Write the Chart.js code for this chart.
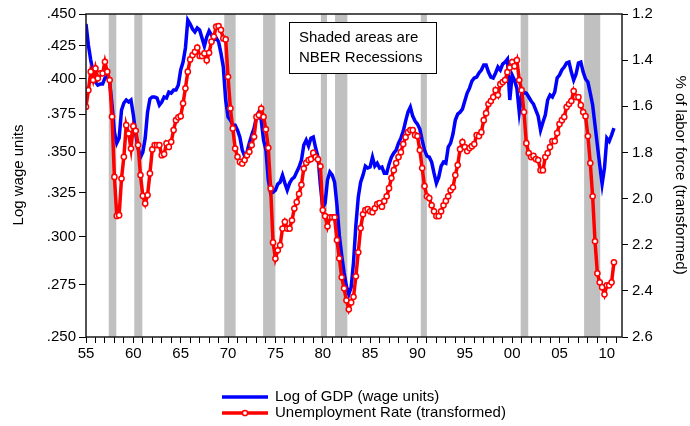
<!DOCTYPE html>
<html>
<head>
<meta charset="utf-8">
<script src="https://cdn.jsdelivr.net/npm/chart.js@4.4.1/dist/chart.umd.min.js"></script>
<style>
  body { margin: 0; background: #fff; }
  canvas { display: block; }
</style>
</head>
<body>
<canvas id="graphic" width="690" height="426"></canvas>
<script>
// ==========================================================================
// DATA (quarterly, 1955Q1 - 2010Q4)
// ==========================================================================
const firstYear = 1955;

// Log of GDP (wage units), left axis
const gdpLog = [
  .4419, .4253, .4138, .4049, .3976, .3954, .3961, .3961,
  .4005, .4020, .3976, .3813, .3630, .3558, .3590, .3778,
  .3827, .3848, .3834, .3848, .3744, .3617, .3526, .3468,
  .3500, .3590, .3764, .3855, .3869, .3869, .3862, .3813,
  .3834, .3869, .3862, .3904, .3897, .3918, .3918, .3954,
  .4064, .4123, .4230, .4451, .4419, .4379, .4355, .4387,
  .4371, .4308, .4245, .4316, .4363, .4331, .4292, .4308,
  .4277, .4191, .4086, .3848, .3730, .3710, .3676, .3676,
  .3643, .3597, .3513, .3475, .3500, .3558, .3610, .3656,
  .3730, .3764, .3710, .3577, .3513, .3326, .3248, .3254,
  .3266, .3302, .3314, .3356, .3308, .3266, .3308, .3332,
  .3344, .3375, .3406, .3449, .3545, .3577, .3539, .3590,
  .3597, .3526, .3468, .3296, .3161, .3190, .3326, .3375,
  .3356, .3314, .3178, .3009, .2901, .2813, .2742, .2702,
  .2737, .2865, .3064, .3224, .3314, .3356, .3412, .3400,
  .3406, .3468, .3412, .3430, .3400, .3406, .3368, .3368,
  .3424, .3468, .3494, .3513, .3558, .3590, .3636, .3703,
  .3764, .3799, .3737, .3703, .3683, .3650, .3577, .3513,
  .3475, .3468, .3437, .3368, .3308, .3344, .3412, .3437,
  .3430, .3532, .3558, .3617, .3710, .3751, .3764, .3785,
  .3841, .3897, .3932, .3983, .4005, .4012, .4042, .4064,
  .4101, .4101, .4049, .4012, .4005, .4042, .4086, .4064,
  .4108, .4123, .4145, .3848, .4027, .3990, .3932, .3764,
  .3883, .3904, .3897, .3869, .3841, .3820, .3778, .3737,
  .3643, .3696, .3744, .3848, .3883, .3869, .3904, .4005,
  .4027, .4064, .4086, .4116, .4123, .4049, .3990, .4034,
  .4116, .4123, .4049, .3998, .3976, .3897, .3813, .3676,
  .3545, .3418, .3302, .3400, .3590, .3570, .3610, .3656
];

// Unemployment rate (transformed), right axis (inverted)
const unempTrans = [
  1.602, 1.530, 1.450, 1.486, 1.436, 1.479, 1.457, 1.457,
  1.407, 1.450, 1.486, 1.645, 1.906, 2.075, 2.072, 1.913,
  1.819, 1.682, 1.718, 1.783, 1.686, 1.706, 1.768, 1.898,
  1.988, 2.021, 1.985, 1.891, 1.787, 1.768, 1.768, 1.768,
  1.812, 1.807, 1.761, 1.776, 1.754, 1.703, 1.660, 1.648,
  1.643, 1.587, 1.522, 1.450, 1.397, 1.378, 1.364, 1.346,
  1.382, 1.382, 1.371, 1.400, 1.368, 1.320, 1.298, 1.255,
  1.252, 1.269, 1.306, 1.310, 1.472, 1.609, 1.696, 1.783,
  1.819, 1.841, 1.848, 1.833, 1.812, 1.797, 1.768, 1.732,
  1.646, 1.638, 1.610, 1.646, 1.700, 1.780, 1.956, 2.190,
  2.260, 2.224, 2.202, 2.130, 2.101, 2.130, 2.130, 2.094,
  2.043, 2.015, 1.980, 1.940, 1.870, 1.845, 1.833, 1.829,
  1.802, 1.820, 1.830, 1.860, 2.050, 2.076, 2.120, 2.081,
  2.081, 2.081, 2.180, 2.259, 2.341, 2.389, 2.441, 2.480,
  2.450, 2.426, 2.337, 2.233, 2.128, 2.068, 2.050, 2.046,
  2.055, 2.059, 2.042, 2.024, 2.020, 2.035, 2.011, 1.990,
  1.955, 1.911, 1.877, 1.846, 1.820, 1.799, 1.764, 1.734,
  1.712, 1.703, 1.703, 1.725, 1.729, 1.790, 1.868, 1.946,
  1.990, 1.998, 2.029, 2.055, 2.076, 2.076, 2.055, 2.029,
  2.010, 1.990, 1.964, 1.951, 1.898, 1.855, 1.786, 1.755,
  1.777, 1.794, 1.781, 1.773, 1.764, 1.725, 1.729, 1.712,
  1.660, 1.630, 1.590, 1.577, 1.560, 1.530, 1.551, 1.504,
  1.495, 1.486, 1.452, 1.432, 1.408, 1.426, 1.400, 1.486,
  1.530, 1.625, 1.760, 1.803, 1.820, 1.815, 1.829, 1.833,
  1.877, 1.877, 1.820, 1.803, 1.777, 1.751, 1.751, 1.716,
  1.677, 1.660, 1.646, 1.603, 1.590, 1.577, 1.534, 1.560,
  1.560, 1.595, 1.625, 1.643, 1.729, 1.846, 1.990, 2.185,
  2.324, 2.363, 2.384, 2.415, 2.376, 2.376, 2.363, 2.276
];

// NBER recessions (decimal years)
const recessionStart = [1957.4, 1960.1, 1969.6, 1973.7, 1979.8, 1981.3, 1990.35, 2000.9, 2007.6];
const recessionEnd   = [1958.2, 1960.95, 1970.8, 1975.0, 1980.45, 1982.6, 1991.0, 2001.7, 2009.3];

// axis ticks
const leftTicks = [.250, .275, .300, .325, .350, .375, .400, .425, .450];
const rightTicks = [1.2, 1.4, 1.6, 1.8, 2.0, 2.2, 2.4, 2.6];
const yearTicks = [];
for (let y = 1955; y <= 2011; y++) yearTicks.push(y);

const quarters = gdpLog.map((_, i) => firstYear + i / 4);

// ==========================================================================
// PLUGINS
// ==========================================================================
const FONT = "'Liberation Sans', Arial, sans-serif";

const recessionBands = {
  id: 'recessionBands',
  beforeDatasetsDraw(chart) {
    const { ctx, chartArea: a, scales: { x } } = chart;
    ctx.save();
    ctx.fillStyle = '#c0c0c0';
    for (let i = 0; i < recessionStart.length; i++) {
      const x0 = x.getPixelForValue(recessionStart[i]);
      const x1 = x.getPixelForValue(recessionEnd[i]);
      ctx.fillRect(x0, a.top, x1 - x0, a.bottom - a.top);
    }
    ctx.restore();
  }
};

const decorations = {
  id: 'decorations',
  afterDraw(chart) {
    const { ctx, chartArea: a } = chart;
    ctx.save();
    // frame
    ctx.strokeStyle = '#1a1a1a';
    ctx.lineWidth = 1.5;
    ctx.strokeRect(a.left, a.top, a.right - a.left, a.bottom - a.top);

    // note box
    ctx.fillStyle = '#fff';
    ctx.fillRect(289.5, 22.5, 147, 51);
    ctx.strokeStyle = '#000';
    ctx.lineWidth = 1;
    ctx.strokeRect(289.5, 22.5, 147, 51);
    ctx.fillStyle = '#000';
    ctx.font = '15px ' + FONT;
    ctx.textBaseline = 'middle';
    ctx.textAlign = 'left';
    ctx.fillText('Shaded areas are', 299, 38);
    ctx.fillText('NBER Recessions', 299, 58);

    // axis titles
    ctx.save();
    ctx.translate(19, 175);
    ctx.rotate(-Math.PI / 2);
    ctx.textAlign = 'center';
    ctx.fillText('Log wage units', 0, 0);
    ctx.restore();
    ctx.save();
    ctx.translate(680, 175);
    ctx.rotate(Math.PI / 2);
    ctx.textAlign = 'center';
    ctx.fillText('% of labor force (transformed)', 0, 0);
    ctx.restore();

    // legend
    const items = chart.data.datasets;
    const rows = [397, 413];
    items.forEach((ds, i) => {
      const y = rows[i];
      ctx.strokeStyle = ds.borderColor;
      ctx.lineWidth = ds.borderWidth;
      ctx.beginPath();
      ctx.moveTo(222, y);
      ctx.lineTo(268, y);
      ctx.stroke();
      if (ds.pointRadius > 0) {
        ctx.beginPath();
        ctx.arc(245, y, ds.pointRadius, 0, Math.PI * 2);
        ctx.fillStyle = ds.pointBackgroundColor;
        ctx.fill();
        ctx.lineWidth = ds.pointBorderWidth;
        ctx.strokeStyle = ds.pointBorderColor;
        ctx.stroke();
      }
      ctx.fillStyle = '#000';
      ctx.textAlign = 'left';
      ctx.fillText(ds.label, 275, y);
    });
    ctx.restore();
  }
};

// ==========================================================================
// CHART
// ==========================================================================
Chart.defaults.font.family = FONT;
Chart.defaults.font.size = 15;
Chart.defaults.color = '#000';

const ctx = document.getElementById('graphic').getContext('2d');
const myChart = new Chart(ctx, {
  type: 'line',
  data: {
    datasets: [
      {
        label: 'Log of GDP (wage units)',
        data: quarters.map((x, i) => ({ x: x, y: gdpLog[i] })),
        yAxisID: 'y',
        borderColor: '#0000ff',
        borderWidth: 3.5,
        pointRadius: 0,
        tension: 0,
        order: 1
      },
      {
        label: 'Unemployment Rate (transformed)',
        data: quarters.map((x, i) => ({ x: x, y: unempTrans[i] })),
        yAxisID: 'y2',
        borderColor: '#ff0000',
        borderWidth: 3.5,
        pointRadius: 2.6,
        pointBackgroundColor: '#ffffff',
        pointBorderColor: '#ff0000',
        pointBorderWidth: 1.5,
        tension: 0,
        order: 0
      }
    ]
  },
  options: {
    responsive: false,
    animation: false,
    layout: { padding: { top: 14, left: 0, right: 0, bottom: 0 } },
    plugins: {
      legend: { display: false },
      tooltip: { enabled: false }
    },
    scales: {
      x: {
        type: 'linear',
        min: 1955,
        max: 2011.6,
        afterBuildTicks: s => { s.ticks = yearTicks.map(v => ({ value: v })); },
        afterFit: s => { s.height = 89; },
        ticks: {
          autoSkip: false,
          maxRotation: 0,
          padding: 2,
          callback: v => (v % 5 === 0 ? String(v % 100).padStart(2, '0') : '')
        },
        grid: { drawOnChartArea: false, tickLength: 6, color: '#000', lineWidth: 1 },
        border: { display: false }
      },
      y: {
        type: 'logarithmic',
        position: 'left',
        min: 0.25,
        max: 0.45,
        afterBuildTicks: s => { s.ticks = leftTicks.map(v => ({ value: v })); },
        afterFit: s => { s.width = 86; },
        ticks: {
          padding: 3,
          callback: v => v.toFixed(3).slice(1)
        },
        grid: { drawOnChartArea: false, tickLength: 7, color: '#000', lineWidth: 1 },
        border: { display: false }
      },
      y2: {
        type: 'linear',
        position: 'right',
        reverse: true,
        min: 1.2,
        max: 2.6,
        afterBuildTicks: s => { s.ticks = rightTicks.map(v => ({ value: v })); },
        afterFit: s => { s.width = 68; },
        ticks: {
          padding: 4,
          callback: v => v.toFixed(1)
        },
        grid: { drawOnChartArea: false, tickLength: 6, color: '#000', lineWidth: 1 },
        border: { display: false }
      }
    }
  },
  plugins: [recessionBands, decorations]
});
</script>
</body>
</html>
